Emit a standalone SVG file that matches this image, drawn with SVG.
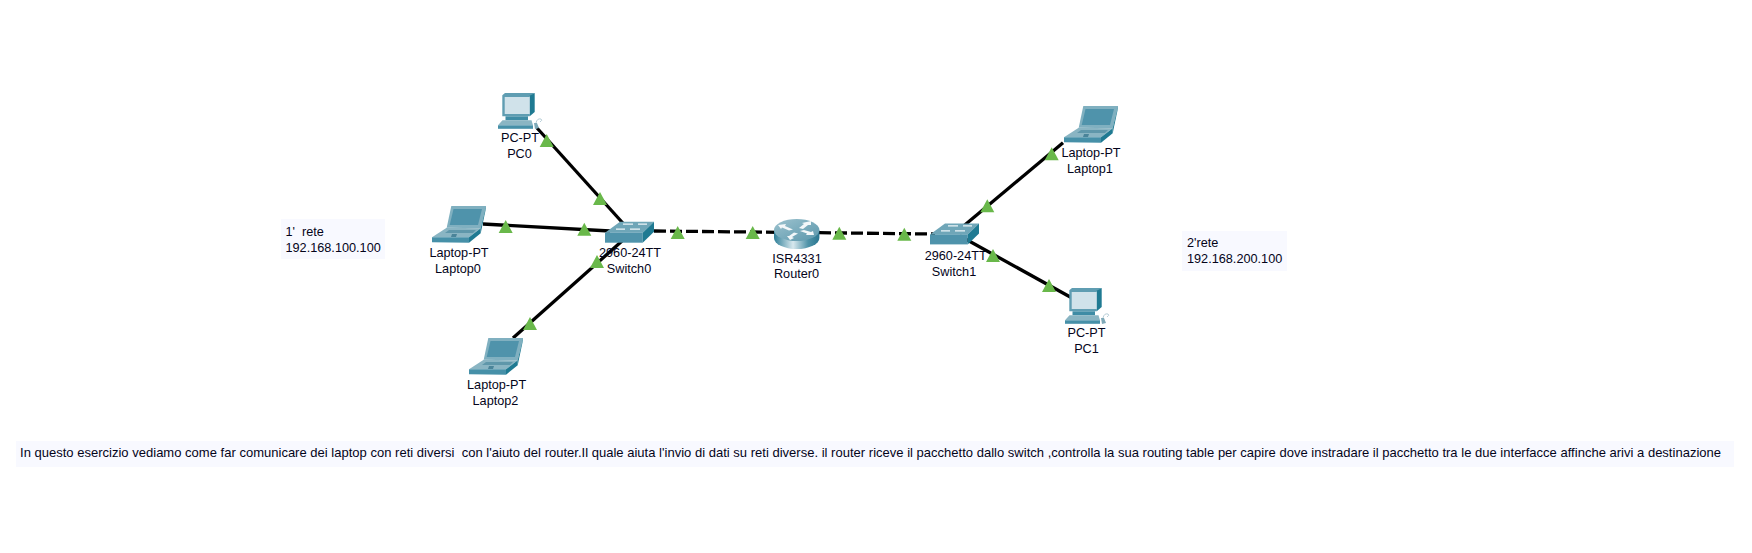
<svg xmlns="http://www.w3.org/2000/svg" width="1752" height="553" viewBox="0 0 1752 553">
<style>
text{font-family:"Liberation Sans",Arial,sans-serif;font-size:12.7px;fill:#04041a;white-space:pre}
.lab{text-anchor:middle}
.link{stroke:#000;stroke-width:3.3;fill:none}
.dash{stroke-dasharray:12 4}
.note{fill:#f8f9ff}
.light{fill:#69b84a}
.arrow{fill:#f2f7f9}
</style>
<defs>
<linearGradient id="cyl" x1="0" x2="1" y1="0" y2="0">
<stop offset="0" stop-color="#2f7f98"/><stop offset="0.42" stop-color="#d8e8ee"/><stop offset="0.75" stop-color="#4f93a8"/><stop offset="1" stop-color="#2a7690"/>
</linearGradient>
<linearGradient id="rtop" x1="0" x2="1" y1="0" y2="1">
<stop offset="0" stop-color="#9cc2ce"/><stop offset="1" stop-color="#5b97ac"/>
</linearGradient>
<polygon id="tri" points="0,0 7,13 -7,13"/>
<g id="laptop">
<polygon points="19.3,0 54,0 48.7,22.3 14.7,21.7" fill="#80b0c0"/>
<polygon points="21.5,3 50,3 46,19 17.7,19" fill="#4f93ab"/>
<polygon points="54,0 54,2 48.7,27.3 48.7,22.3" fill="#1f7a92"/>
<polygon points="14.7,21.7 48.7,22.3 37,31.3 0,31.3" fill="#8ab5c3"/>
<polygon points="17,24 44,24 41,27 13,27" fill="#5f97aa"/>
<polygon points="20,28 25,28 24,31 19,31" fill="#4a8499"/>
<polygon points="0,31.3 37,31.3 37,36.7 0,36.2" fill="#4690a8"/>
<polygon points="37,31.3 48.7,22.3 48.7,27.3 37,36.7" fill="#1f7a92"/>
</g>
<g id="pc">
<polygon points="4.3,2.3 7,0 36.7,0 31.7,3 31.7,23.3 4.3,23.3" fill="#5f9db2"/>
<polygon points="31.7,2.5 36.7,0 36.7,19 31.7,23.3" fill="#1f7a92"/>
<rect x="6.7" y="4" width="25" height="17" fill="#d0e2ea"/>
<polygon points="7.5,23.3 30,23.3 30,27.3 7.5,27.3" fill="#3f8ca5"/>
<polygon points="4.5,27.3 33.5,27.3 35,32.3 0,32.3" fill="#8ab5c3"/>
<rect x="0" y="32.3" width="35" height="3.5" fill="#4690a8"/>
<polygon points="36,30 39,30 41,35 37,36" fill="#7fa9b8"/>
<path d="M38,30 q1,-5 5,-4 q2,1 -1,3" stroke="#b9cfd8" stroke-width="1" fill="none"/>
</g>
<g id="switch">
<polygon points="0,11 15,0 49,0 37.7,11" fill="#6fa6b8"/>
<rect x="0" y="11" width="37.7" height="10" fill="#4f93ab"/>
<polygon points="37.7,11 49,0 49,10 37.7,21" fill="#1f7a92"/>
<path d="M18,2.5 H28 M33,2.5 H42 M11,7.5 H20 M25,7.5 H35" stroke="#eef5f7" stroke-width="1.2" fill="none"/>
</g>
</defs>
<rect width="1752" height="553" fill="#fff"/>
<g id="connectors">
<path class="link" d="M537,128 L630,231"/>
<path class="link" d="M483,224 L610,231"/>
<path class="link" d="M513,338 L622,241"/>
<path class="link dash" d="M654,231 L790,232.4"/>
<path class="link dash" d="M819,232.7 L935,234"/>
<path class="link" d="M960,229 L1063,142.7"/>
<path class="link" d="M960,236 L1072,298"/>
</g>
<g id="PC0"><use href="#pc" x="498" y="93"/><text class="lab" x="520" y="142">PC-PT</text><text class="lab" x="519.5" y="157.5">PC0</text></g>
<g id="Laptop0"><use href="#laptop" x="432" y="206"/><text class="lab" x="459" y="256.7">Laptop-PT</text><text class="lab" x="458" y="272.5">Laptop0</text></g>
<g id="Laptop2"><use href="#laptop" x="469" y="338"/><text class="lab" x="496.7" y="389">Laptop-PT</text><text class="lab" x="495.5" y="405">Laptop2</text></g>
<g id="Switch0"><use href="#switch" x="605" y="221.7"/><text class="lab" x="630" y="257">2960-24TT</text><text class="lab" x="629" y="272.7">Switch0</text></g>
<g id="Router0">
<path d="M774,230 V238 A22.7,11 0 0 0 819.4,238 V230 Z" fill="url(#cyl)"/>
<ellipse cx="796.7" cy="230" rx="22.7" ry="11" fill="url(#rtop)"/>
<polygon class="arrow" points="778,225 786,224 785,226 793,229.5 789,230.5 782,227.5 781,229"/>
<polygon class="arrow" points="790,240 787,236 789,236 794,232.5 798,233.5 792,237 794,238"/>
<polygon class="arrow" points="811,221 811,225 808,225 803,229 799,228 804,224 802,223"/>
<polygon class="arrow" points="814,235 806,235 807,233.5 800,231 804,230 811,232 813,231"/>
<text class="lab" x="797" y="262.7">ISR4331</text><text class="lab" x="796.5" y="278">Router0</text>
</g>
<g id="Switch1"><use href="#switch" x="930" y="223.4"/><text class="lab" x="955.7" y="260">2960-24TT</text><text class="lab" x="954" y="276">Switch1</text></g>
<g id="Laptop1"><use href="#laptop" x="1064" y="106"/><text class="lab" x="1091" y="156.7">Laptop-PT</text><text class="lab" x="1090" y="172.7">Laptop1</text></g>
<g id="PC1"><use href="#pc" x="1065" y="288"/><text class="lab" x="1086.5" y="337">PC-PT</text><text class="lab" x="1086.5" y="353">PC1</text></g>
<g id="link-lights" class="light">
<use href="#tri" x="546.7" y="134"/><use href="#tri" x="600" y="192"/>
<use href="#tri" x="505.7" y="220"/><use href="#tri" x="584.3" y="222.7"/>
<use href="#tri" x="530" y="317"/><use href="#tri" x="597" y="255"/>
<use href="#tri" x="677.7" y="226"/><use href="#tri" x="752.7" y="226"/>
<use href="#tri" x="839.3" y="226.7"/><use href="#tri" x="904.3" y="227.7"/>
<use href="#tri" x="987.3" y="199.3"/><use href="#tri" x="1051.7" y="147.3"/>
<use href="#tri" x="993" y="249"/><use href="#tri" x="1049" y="279"/>
</g>
<g id="note-rete1"><rect class="note" x="281" y="219" width="104" height="40"/><text x="285.5" y="236">1'  rete</text><text x="285.5" y="251.7">192.168.100.100</text></g>
<g id="note-rete2"><rect class="note" x="1182" y="231" width="105" height="40"/><text x="1187" y="246.8">2'rete</text><text x="1187" y="262.5">192.168.200.100</text></g>
<g id="note-descrizione"><rect class="note" x="16" y="441" width="1718" height="26"/><text x="20" y="456.7" textLength="1701" lengthAdjust="spacing" style="font-size:13px">In questo esercizio vediamo come far comunicare dei laptop con reti diversi  con l'aiuto del router.Il quale aiuta l'invio di dati su reti diverse. il router riceve il pacchetto dallo switch ,controlla la sua routing table per capire dove instradare il pacchetto tra le due interfacce affinche arivi a destinazione</text></g>
</svg>
